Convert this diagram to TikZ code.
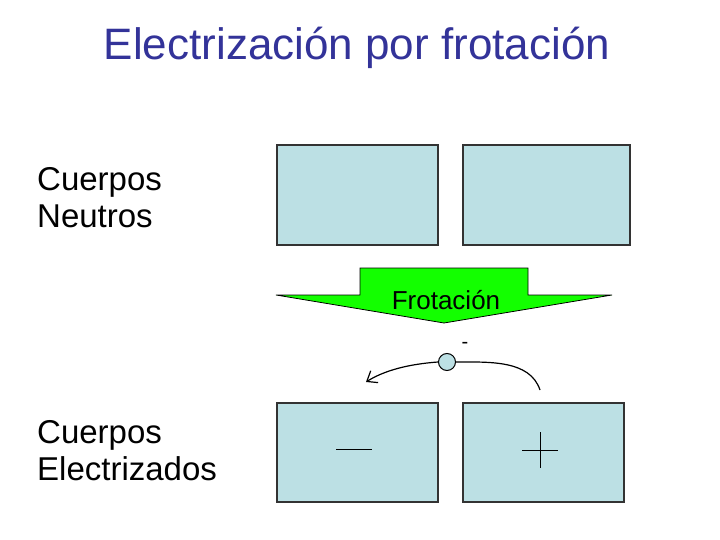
\documentclass[tikz,border=0pt]{standalone}
\usepackage{fontspec}
\setmainfont{Liberation Sans}
\usetikzlibrary{arrows.meta}
\definecolor{boxc}{HTML}{BCE0E4}
\definecolor{titc}{HTML}{333399}
\tikzset{body/.style={draw=black!80,line width=1.2pt,fill=boxc},
lbl/.style={anchor=west,align=left,inner sep=0pt,font=\fontsize{33}{37}\selectfont}}
\begin{document}
\begin{tikzpicture}[x=1pt,y=-1pt]
\useasboundingbox (0,0) rectangle (720,540);
\node[text=titc,font=\fontsize{44}{50}\selectfont] (t) at (357,48) {Electrización por frotación};
\node[lbl] (n) at (37,198) {Cuerpos\\Neutros};
\node[lbl] (e) at (37,451) {Cuerpos\\Electrizados};
\draw[body] (277,145) rectangle (438,245);
\draw[body] (463,145) rectangle (630,245);
\draw[body] (277,403) rectangle (438,502);
\draw[body] (463,403) rectangle (624,502);
\draw[fill=green!90!lime,draw=black,line width=0.8pt] (360,268)--(528,268)--(528,295)--(612,295)--(444,323)--(276,295)--(360,295)--cycle;
\node[font=\fontsize{26}{30}\selectfont] (f) at (446,300) {Frotación};
\node[draw=black,line width=1pt,fill=boxc,circle,minimum size=17pt,inner sep=0] (c) at (447,362) {};
\node[font=\fontsize{20}{24}\selectfont] (m) at (465,345) {-};
\coordinate (s) at (540,390);
\coordinate (en) at (366,382);
\draw[line width=1.2pt] (s) .. controls (530,360) and (490,362) .. (c.east);
\draw[line width=1.2pt,-{Straight Barb[length=9pt,width=14pt]}] (c.west) .. controls (410,364) and (385,370) .. (en);
\draw[line width=0.8pt] (336,449) -- (372,449);
\draw[line width=0.8pt] (522,450) -- (558,450) (540,432) -- (540,468);
\end{tikzpicture}
\end{document}
